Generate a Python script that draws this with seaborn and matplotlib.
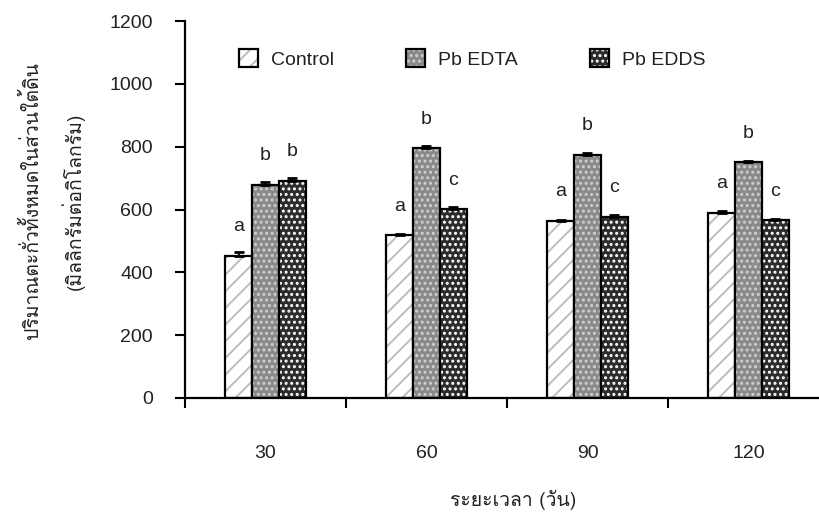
import matplotlib
matplotlib.use("Agg")
import matplotlib.pyplot as plt
import matplotlib.colors as mcolors
from matplotlib import font_manager
from matplotlib.ft2font import FT2Font
import seaborn as sns
import pandas as pd
import numpy as np

# ---------------- data ----------------
days = ["30", "60", "90", "120"]
series = ["Control", "Pb EDTA", "Pb EDDS"]
control = [452, 518, 563, 590]
pb_edta = [678, 795, 775, 750]
pb_edds = [691, 601, 577, 566]
err_control = [14, 5, 4, 6]
err_edta = [8, 8, 4, 4]
err_edds = [8, 6, 4, 4]
letters_control = ["a", "a", "a", "a"]
letters_edta = ["b", "b", "b", "b"]
letters_edds = ["b", "c", "c", "c"]
y_ticks = [0, 200, 400, 600, 800, 1000, 1200]
xlabel = "ระยะเวลา (วัน)"
ylabel1 = "ปริมาณตะกั่วทั้งหมดในส่วนใต้ดิน"
ylabel2 = "(มิลลิกรัมต่อกิโลกรัม)"

# ---------------- fonts ----------------
def find_thai_font():
    for f in font_manager.fontManager.ttflist:
        try:
            cm = FT2Font(f.fname).get_charmap()
        except Exception:
            continue
        if 0x0E01 in cm and 0x0E31 in cm:
            return f.name
    return None

sns.set_theme(style="white")
thai = find_thai_font()
base = "Liberation Sans"
plt.rcParams["font.family"] = [base, "DejaVu Sans"]
thai_fam = [thai, base, "DejaVu Sans"] if thai else [base, "DejaVu Sans"]
plt.rcParams["hatch.linewidth"] = 1.4

df = pd.DataFrame({
    "day": days * 3,
    "series": [s for s in series for _ in days],
    "value": control + pb_edta + pb_edds,
})

fig = plt.figure(figsize=(8.19, 5.16), dpi=100)
ax = fig.add_axes([185 / 819, 1 - 398 / 516, 634 / 819, 377 / 516])

sns.barplot(data=df, x="day", y="value", hue="series", order=days,
            hue_order=series, errorbar=None, width=0.5, gap=0,
            palette=["white", "#8a8a8a", "#2c2c2c"], edgecolor="black",
            linewidth=1.6, saturation=1, ax=ax, legend=False, zorder=2)

hatches = ["//", "...", "..."]
hatch_cols = ["#bdbdbd", "#d0d0d0", "#ffffff"]
errs = [err_control, err_edta, err_edds]
lets = [letters_control, letters_edta, letters_edds]
for cont, h, hc, er, lt in zip(ax.containers, hatches, hatch_cols, errs, lets):
    xs, tops = [], []
    for p in cont.patches:
        p.set_hatch(h)
        p.set_edgecolor("black")
        p._hatch_color = mcolors.to_rgba(hc)
        xs.append(p.get_x() + p.get_width() / 2)
        tops.append(p.get_height())
    ax.errorbar(xs, tops, yerr=[np.zeros(len(er)), er], fmt="none",
                ecolor="black", elinewidth=1.4, capsize=3.8, capthick=2,
                zorder=3)
    for x, t, e, s in zip(xs, tops, er, lt):
        ax.annotate(s, (x, t), xytext=(0, 21), textcoords="offset points",
                    ha="center", va="center", fontsize=14, color="#222222")

leg = ax.legend(handles=ax.containers, labels=series, ncol=3, frameon=False,
                loc="center left", bbox_to_anchor=(54 / 634, (398 - 59) / 377),
                borderaxespad=0, borderpad=0, handlelength=1.0,
                handleheight=1.0, handletextpad=0.65, columnspacing=3.7,
                fontsize=14)
for t in leg.get_texts():
    t.set_color("#222222")

ax.set_ylim(0, 1200)
ax.set_xlim(-0.5, 3.438)
ax.set_yticks(y_ticks)
ax.set_yticklabels([str(v) for v in y_ticks])
ax.set_xticks(range(len(days)))
ax.set_xticklabels(days)
ax.set_xticks([-0.5, 0.5, 1.5, 2.5], minor=True)
ax.tick_params(axis="x", which="major", length=0, pad=34, labelsize=14,
               labelcolor="#222222")
ax.tick_params(axis="x", which="minor", length=7, width=1.5, color="black",
               direction="out", bottom=True)
ax.tick_params(axis="y", length=7, width=1.5, color="black", direction="out",
               left=True, pad=16, labelsize=14, labelcolor="#222222")
for sp in ["top", "right"]:
    ax.spines[sp].set_visible(False)
for sp in ["left", "bottom"]:
    ax.spines[sp].set_color("black")
    ax.spines[sp].set_linewidth(1.6)
ax.set_xlabel("")
ax.set_ylabel("")

fig.text(513 / 819, 1 - 500 / 516, xlabel, ha="center", va="center",
         fontsize=14, family=thai_fam, color="#222222")
fig.text(31 / 819, 1 - 201 / 516, ylabel1, ha="center", va="center",
         rotation=90, fontsize=14, family=thai_fam, color="#222222")
fig.text(73 / 819, 1 - 201 / 516, ylabel2, ha="center", va="center",
         rotation=90, fontsize=14, family=thai_fam, color="#222222")

fig.savefig("out.png", dpi=100)
